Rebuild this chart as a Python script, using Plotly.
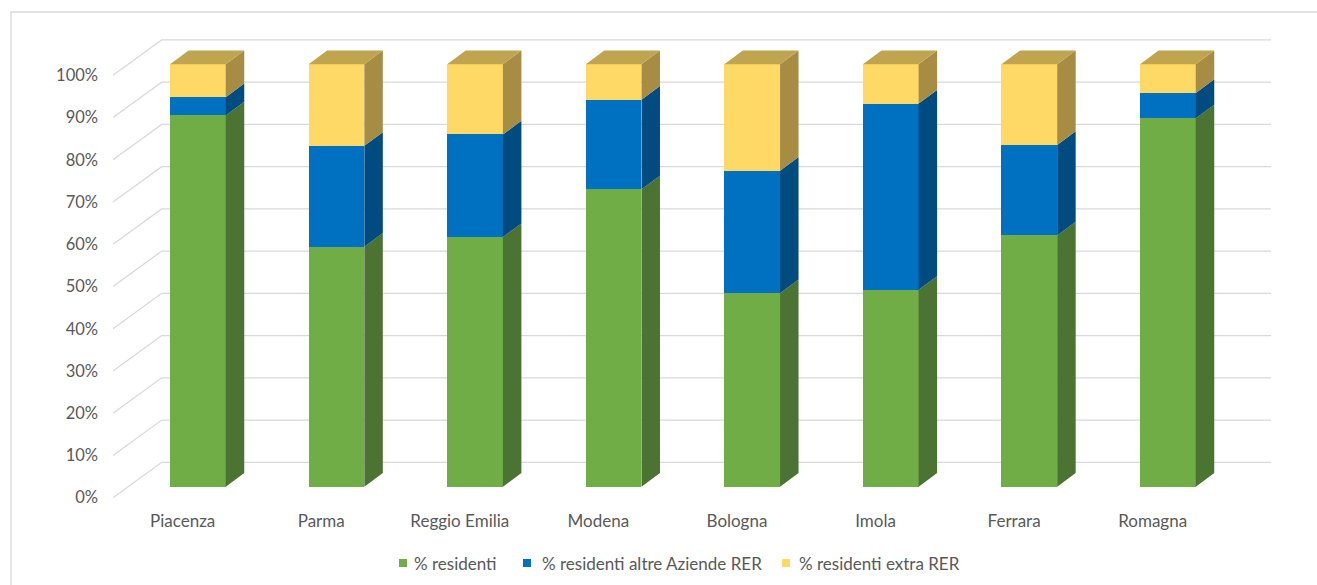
import plotly.graph_objects as go

# ---------------- data ----------------
categories = ["Piacenza", "Parma", "Reggio Emilia", "Modena", "Bologna", "Imola", "Ferrara", "Romagna"]
residenti = [87.9, 56.8, 59.1, 70.4, 45.8, 46.6, 59.5, 87.2]
altre_aziende = [4.3, 23.9, 24.3, 21.2, 29.0, 44.1, 21.4, 6.0]
extra_rer = [7.8, 19.3, 16.6, 8.4, 25.2, 9.3, 19.1, 6.8]
series_names = ["% residenti", "% residenti altre Aziende RER", "% residenti extra RER"]
tick_values = [0, 10, 20, 30, 40, 50, 60, 70, 80, 90, 100]
tick_labels = ["0%", "10%", "20%", "30%", "40%", "50%", "60%", "70%", "80%", "90%", "100%"]

# ---------------- style ----------------
front_colors = ["#70AD47", "#0070C0", "#FFD966"]
side_colors = ["#4B7331", "#004B80", "#A68D43"]
top_color = "#C1A44F"
grid_color = "#D9D9D9"
text_color = "#595959"
FONT = "Lato"

# plot area in pixels (for paper-coordinate decorations)
PL, PR, PT, PB = 113, 1271, 30, 505

BAR_W = 0.402        # front face width (category units)
DX = 0.1335          # bar depth, horizontal (category units)
DY = 3.24            # bar depth, vertical (% units)
FLOOR_DROP = 2.60    # front floor edge below bar base (% units)
WALL_RISE = 5.78     # back wall above bar base (% units)
X_LEFT, X_RIGHT = -0.6127, 7.744
SLANT_DX = 0.3514
LABEL_SHIFT = 0.11

series = [residenti, altre_aziende, extra_rer]
xs = list(range(len(categories)))


def px_to_paper(px, py):
    return (px - PL) / (PR - PL), (PB - py) / (PB - PT)


fig = go.Figure()

# front faces
for name, vals, col in zip(series_names, series, front_colors):
    fig.add_trace(go.Bar(
        x=xs, y=vals, name=name, width=BAR_W, showlegend=False,
        marker=dict(color=col, line=dict(width=0)),
        hovertemplate="%{y:.1f}%<extra>" + name + "</extra>",
    ))

# side faces (computed from stacked values)
base = [0.0] * len(categories)
for vals, col in zip(series, side_colors):
    px, py = [], []
    for i, v in enumerate(vals):
        y0, y1 = base[i], base[i] + v
        xr = xs[i] + BAR_W / 2
        px += [xr, xr + DX, xr + DX, xr, xr, None]
        py += [y0, y0 + DY, y1 + DY, y1, y0, None]
        base[i] = y1
    fig.add_trace(go.Scatter(
        x=px, y=py, mode="lines", fill="toself", fillcolor=col,
        line=dict(width=0, color=col), showlegend=False, hoverinfo="skip",
    ))

# top faces
tx, ty = [], []
for i, t in enumerate(base):
    xl, xr = xs[i] - BAR_W / 2, xs[i] + BAR_W / 2
    tx += [xl, xl + DX, xr + DX, xr, xl, None]
    ty += [t, t + DY, t + DY, t, t, None]
fig.add_trace(go.Scatter(
    x=tx, y=ty, mode="lines", fill="toself", fillcolor=top_color,
    line=dict(width=0, color=top_color), showlegend=False, hoverinfo="skip",
))

# perspective gridlines
shapes = []
for v in tick_values:
    path = (f"M {X_LEFT},{v - FLOOR_DROP} L {X_LEFT + SLANT_DX},{v + WALL_RISE} "
            f"L {X_RIGHT},{v + WALL_RISE}")
    shapes.append(dict(type="path", path=path, xref="x", yref="y", layer="below",
                       line=dict(color=grid_color, width=1.3)))

# chart area border
bx0, by1 = px_to_paper(11, 12)
shapes.append(dict(type="rect", xref="paper", yref="paper",
                   x0=bx0, y0=-0.3, x1=1.2, y1=by1,
                   line=dict(color=grid_color, width=1.3), fillcolor="rgba(0,0,0,0)"))

# legend (manual, to match the original layout)
annotations = []
legend_square_px = [403, 527, 786]
legend_text_px = [412, 540, 797]
LEG_Y = 563
for name, col, sx, tx_ in zip(series_names, front_colors, legend_square_px, legend_text_px):
    x0, y0 = px_to_paper(sx - 4, LEG_Y + 4)
    x1, y1 = px_to_paper(sx + 4, LEG_Y - 4)
    shapes.append(dict(type="rect", xref="paper", yref="paper", x0=x0, y0=y0, x1=x1, y1=y1,
                       fillcolor=col, line=dict(width=0)))
    ax, ay = px_to_paper(tx_, LEG_Y)
    annotations.append(dict(text=name, xref="paper", yref="paper", x=ax, y=ay,
                            xanchor="left", yanchor="middle", showarrow=False,
                            font=dict(family=FONT, size=17, color=text_color)))

fig.update_layout(
    width=1317, height=585,
    margin=dict(l=PL, r=1317 - PR, t=PT, b=585 - PB, autoexpand=False),
    barmode="stack",
    paper_bgcolor="white", plot_bgcolor="white",
    font=dict(family=FONT, size=16, color=text_color),
    shapes=shapes, annotations=annotations,
    showlegend=False,
    xaxis=dict(range=[X_LEFT, X_RIGHT], tickvals=[x - LABEL_SHIFT for x in xs],
               ticktext=categories, showgrid=False, zeroline=False, showline=False,
               ticks="", automargin=False, ticklabelstandoff=4,
               tickfont=dict(family=FONT, size=17, color=text_color)),
    yaxis=dict(range=[-4.33, 108.12], tickvals=[v - FLOOR_DROP for v in tick_values],
               ticktext=tick_labels, showgrid=False, zeroline=False, showline=False,
               ticks="", automargin=False, ticklabelstandoff=14,
               tickfont=dict(family=FONT, size=16.5, color=text_color)),
)

fig.write_html("out.html")
